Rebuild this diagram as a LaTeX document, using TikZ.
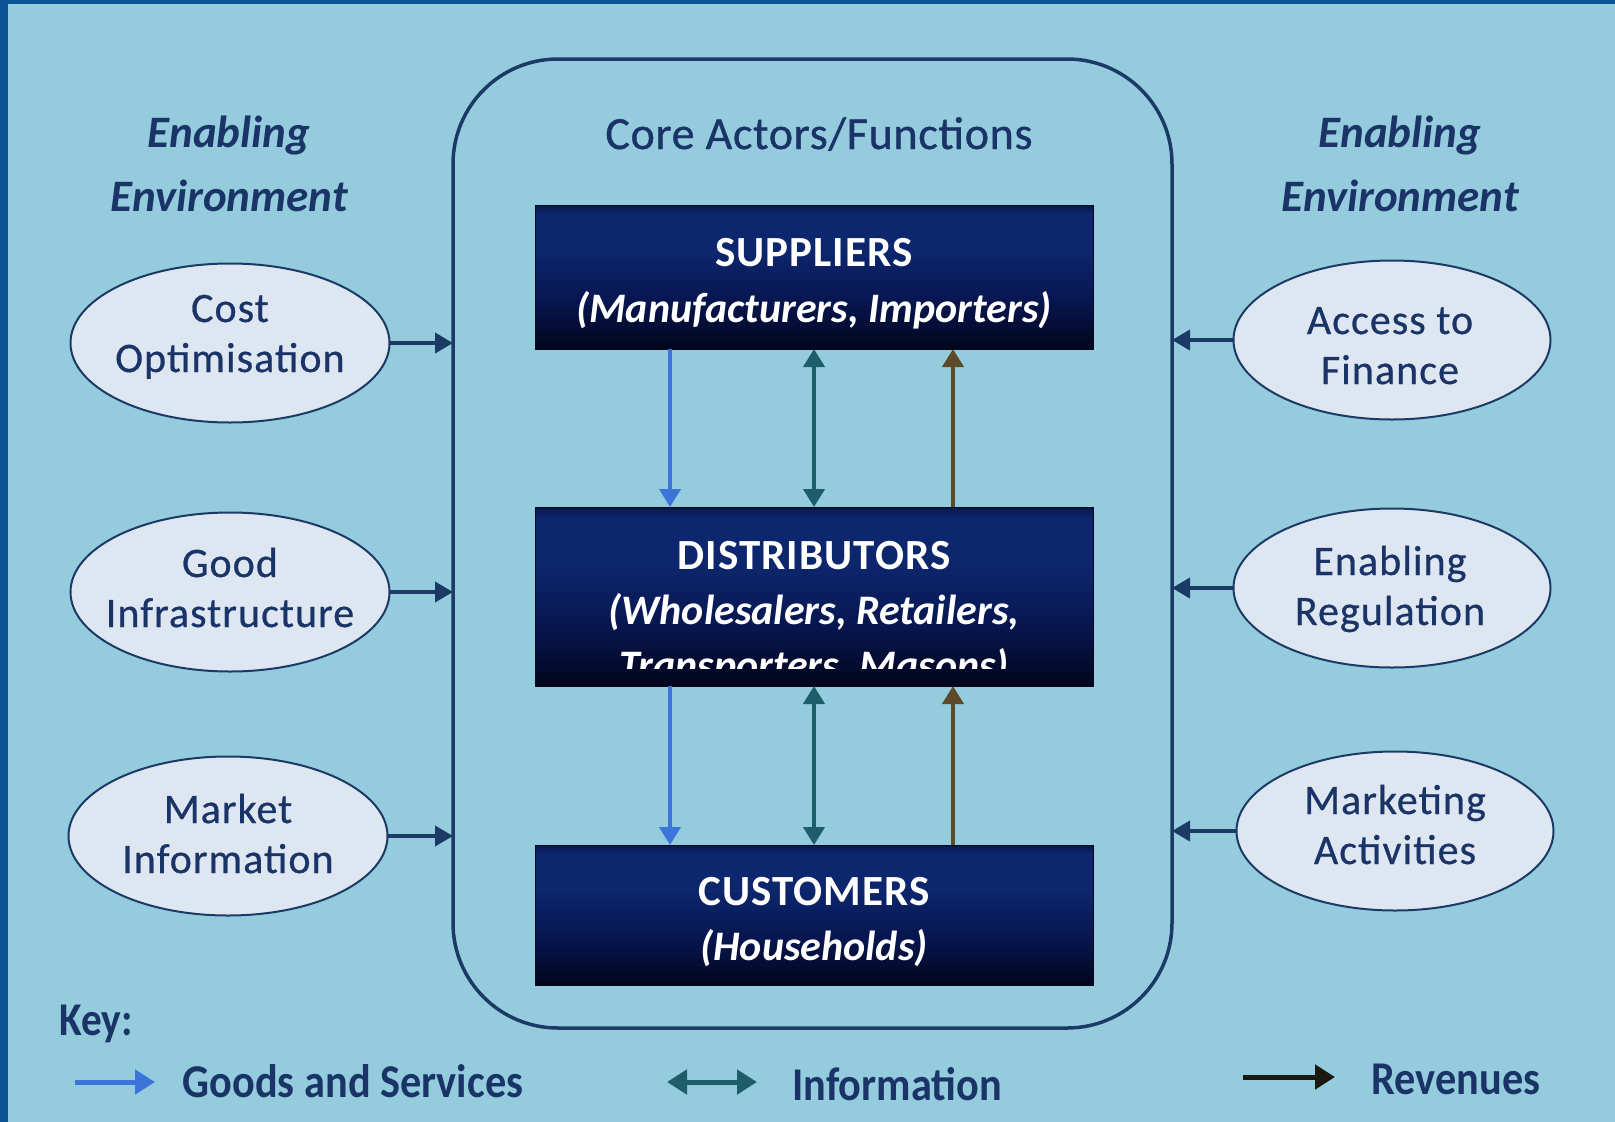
\documentclass[tikz,border=0pt]{standalone}
\usepackage{fontspec}
\setmainfont{Carlito}
\newfontfamily\ellfont[LetterSpace=2.5,FakeBold=0.6]{Carlito}
\newfontfamily\corefont[LetterSpace=1.5,FakeBold=0.8]{Carlito}
\newfontfamily\capfont[LetterSpace=2.5]{Carlito}
\usepackage{graphicx}
\usetikzlibrary{arrows.meta,calc,shapes.geometric}

\definecolor{bgblue}{HTML}{94CCDE}
\definecolor{rim}{HTML}{0B5394}
\definecolor{navy}{HTML}{1A3468}
\definecolor{frameline}{HTML}{1B3A66}
\definecolor{ellfill}{HTML}{DDE6F1}
\definecolor{goodsc}{HTML}{3C74DA}
\definecolor{infoc}{HTML}{1E5E6A}
\definecolor{revc}{HTML}{5B4B2B}
\definecolor{revkey}{HTML}{1C1A10}
\definecolor{abot}{HTML}{01061C}
\definecolor{amidtwo}{HTML}{071650}
\definecolor{amid}{HTML}{0D276E}
\definecolor{atop}{HTML}{081848}

\pgfdeclareverticalshading{actorshade}{100bp}{color(0bp)=(abot); color(25bp)=(abot); color(42bp)=(amidtwo); color(60bp)=(amid); color(72bp)=(amid); color(75bp)=(atop); color(100bp)=(atop)}

\newcommand{\fsz}[2]{\fontsize{#1}{#2}\selectfont}

\begin{document}
\begin{tikzpicture}[x=1pt,y=-1pt,
  envtitle/.style={anchor=base, text=navy, font=\fsz{45}{54}\bfseries\itshape, inner sep=0pt},
  coretitle/.style={anchor=base, text=navy, font=\corefont\fsz{46}{54}, inner sep=0pt},
  actor/.style={rectangle, shading=actorshade, draw=abot, line width=1pt, minimum width=558pt, outer sep=0pt},
  actortext/.style={anchor=base, text=white, font=\capfont\fsz{43}{50}\bfseries, inner sep=0pt},
  actorsub/.style={anchor=base, text=white, font=\fsz{42}{50}\bfseries\itshape, inner sep=0pt},
  envell/.style={ellipse, fill=ellfill, draw=frameline, line width=2pt, minimum width=319pt, minimum height=159pt, outer sep=0pt},
  elltext/.style={anchor=base, text=navy, font=\ellfont\fsz{42}{50}, inner sep=0pt},
  feed/.style={draw=frameline, line width=4pt, -{Triangle[length=18pt,width=20pt]}},
  goods/.style={draw=goodsc, line width=4pt, -{Triangle[length=18pt,width=21pt]}},
  info/.style={draw=infoc, line width=4pt, {Triangle[length=18pt,width=21pt]}-{Triangle[length=18pt,width=21pt]}},
  revenue/.style={draw=revc, line width=4pt, -{Triangle[length=18pt,width=21pt]}},
  keytext/.style={anchor=base, text=navy, font=\fsz{47}{54}\bfseries, inner sep=0pt}
]
\useasboundingbox (0,0) rectangle (1615,1122);

% background and outer rim
\fill[bgblue] (0,0) rectangle (1615,1122);
\fill[rim] (0,0) rectangle (8,1122);
\fill[rim] (0,0) rectangle (1615,4);

% section titles
\node[envtitle] (envLa) at (229,147) {Enabling};
\node[envtitle] (envLb) at (229,211) {Environment};
\node[envtitle] (envRa) at (1400,147) {Enabling};
\node[envtitle] (envRb) at (1400,211) {Environment};

% core frame
\node[draw=frameline, line width=3.5pt, rounded corners=105pt, minimum width=719pt, minimum height=969pt, outer sep=0pt] (frame) at (812.5,543.5) {};
\node[coretitle] (core) at (819,149) {Core Actors/Functions};

% core actors
\node[actor, minimum height=144pt] (sup) at (814,277) {};
\node[actortext] (supA) at (814,266) {SUPPLIERS};
\node[actorsub] (supB) at (814,322) {(Manufacturers, Importers)};

\node[actor, minimum height=179pt] (dist) at (814,596.5) {};
\node[actortext] (distA) at (814,569) {DISTRIBUTORS};
\node[actorsub] (distB) at (814,624) {(Wholesalers, Retailers,};
\begin{scope}
  \clip (535,507) rectangle (1093,668);
  \node[actorsub] (distC) at (814,679) {Transporters, Masons)};
\end{scope}

\node[actor, minimum height=140pt] (cust) at (814,915) {};
\node[actortext] (custA) at (814,905) {CUSTOMERS};
\node[actorsub] (custB) at (814,960) {(Households)};

% flows between actors
\draw[goods] ([xshift=-144pt]sup.south) -- ([xshift=-144pt]dist.north);
\draw[info] (sup.south) -- (dist.north);
\draw[revenue] ([xshift=139pt]dist.north) -- ([xshift=139pt]sup.south);
\draw[goods] ([xshift=-144pt]dist.south) -- ([xshift=-144pt]cust.north);
\draw[info] (dist.south) -- (cust.north);
\draw[revenue] ([xshift=139pt]cust.north) -- ([xshift=139pt]dist.south);

% enabling environment, left
\node[envell] (cost) at (230,343) {};
\node[elltext] (costA) at (230,322) {Cost};
\node[elltext] (costB) at (230,372) {Optimisation};
\node[envell] (infra) at (230,592) {};
\node[elltext] (infraA) at (230,577) {Good};
\node[elltext] (infraB) at (230,627) {Infrastructure};
\node[envell] (mkt) at (228,836) {};
\node[elltext] (mktA) at (228,823) {Market};
\node[elltext] (mktB) at (228,873) {Information};

% enabling environment, right
\node[envell, minimum width=317pt] (fin) at (1392,340) {};
\node[elltext] (finA) at (1390,334) {Access to};
\node[elltext] (finB) at (1390,384) {Finance};
\node[envell, minimum width=317pt] (reg) at (1392,588) {};
\node[elltext] (regA) at (1390,575) {Enabling};
\node[elltext] (regB) at (1390,625) {Regulation};
\node[envell, minimum width=317pt] (mkg) at (1395,831) {};
\node[elltext] (mkgA) at (1395,814) {Marketing};
\node[elltext] (mkgB) at (1395,864) {Activities};

% influence on the core
\draw[feed] (cost.east) -- (cost.east -| frame.west);
\draw[feed] (infra.east) -- (infra.east -| frame.west);
\draw[feed] (mkt.east) -- (mkt.east -| frame.west);
\draw[feed] (fin.west) -- (fin.west -| frame.east);
\draw[feed] (reg.west) -- (reg.west -| frame.east);
\draw[feed] (mkg.west) -- (mkg.west -| frame.east);

% key
\node[keytext] (keyT) at (96,1035) {\scalebox{0.88}[1]{Key:}};
\coordinate (kgA) at (75,1082);
\coordinate (kgB) at (155,1082);
\draw[goods, line width=5pt, -{Triangle[length=20pt,width=24pt]}] (kgA) -- (kgB);
\node[keytext] (kgT) at (353,1097) {\scalebox{0.9}[1]{Goods and Services}};
\coordinate (kiA) at (667,1082);
\coordinate (kiB) at (757,1082);
\draw[info, line width=5pt, {Triangle[length=20pt,width=24pt]}-{Triangle[length=20pt,width=24pt]}] (kiA) -- (kiB);
\node[keytext] (kiT) at (897,1100) {\scalebox{0.9}[1]{Information}};
\coordinate (krA) at (1243,1077);
\coordinate (krB) at (1335,1077);
\draw[draw=revkey, line width=5pt, -{Triangle[length=20pt,width=24pt]}] (krA) -- (krB);
\node[keytext] (krT) at (1456,1094) {\scalebox{0.9}[1]{Revenues}};
\end{tikzpicture}
\end{document}
